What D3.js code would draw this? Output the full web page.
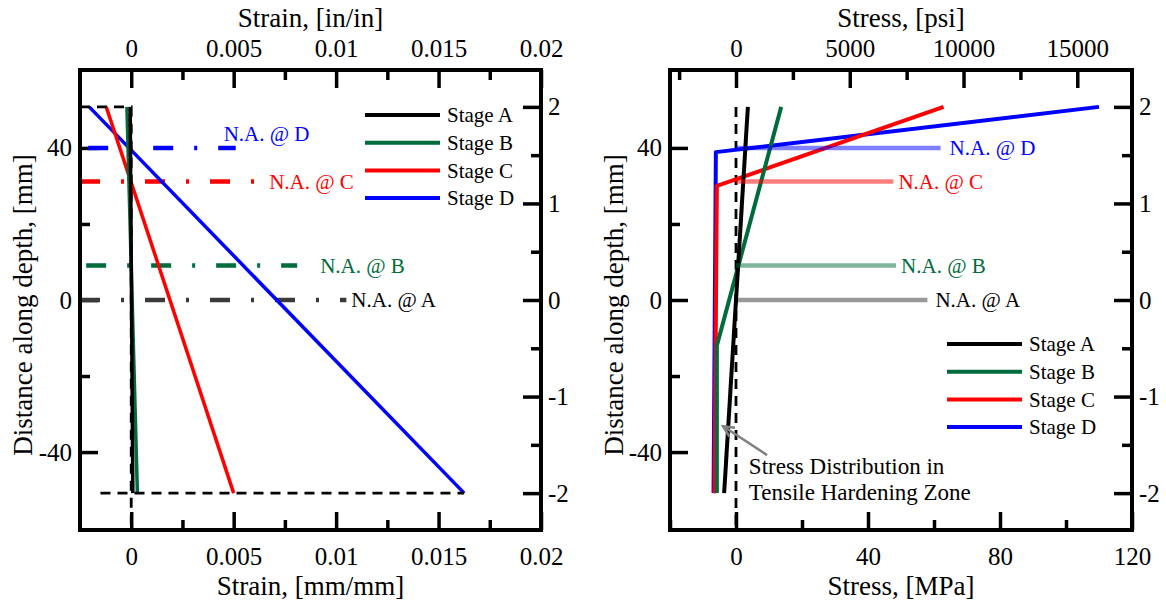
<!DOCTYPE html>
<html><head><meta charset="utf-8">
<script src="https://cdn.jsdelivr.net/npm/d3@7"></script>
<style>
body{margin:0;background:#fff;}
svg text{font-family:"Liberation Serif","Times New Roman",serif;fill:#000;}
</style></head><body>
<svg id="chart" width="1166" height="604"></svg>
<script>
// ---------------- data ----------------
const stages = ["Stage A", "Stage B", "Stage C", "Stage D"];
const stageColors = ["#000000", "#006b3c", "#ff0000", "#0000ff"];
const naLabels = ["N.A. @ A", "N.A. @ B", "N.A. @ C", "N.A. @ D"];

// strain profiles (depth in mm, strain in mm/mm)
const sectionDepth = [50.8, -50.8];
const strainA = [-0.00005, 0.00008];
const strainB = [-0.00021, 0.0003];
const strainC = [-0.00122, 0.005];
const strainD = [-0.00205, 0.01625];

// neutral axis depth (mm) and extents
const naDepth = [0, 9.1, 31.2, 40];
const naStrainStart = [-0.0025, -0.0022, -0.0025, -0.0021];
const naStrainEnd = [0.0105, 0.0081, 0.006, 0.0051];
const naStressEnd = [58, 48.5, 47.7, 62];

// stress profiles (depth in mm, stress in MPa)
const stressDepthA = [50.8, -50.8];
const stressA = [3.6, -3.6];
const stressDepthB = [50.8, -12, -50.8];
const stressB = [13.7, -5.8, -5.8];
const stressDepthC = [50.8, 30, -50.8];
const stressC = [62.9, -5.8, -6.5];
const stressDepthD = [50.8, 38.9, -50.8];
const stressD = [110, -6.1, -6.8];

// ticks
const strainTicks = [0, 0.005, 0.01, 0.015, 0.02];
const strainMinorTicks = [0.0025, 0.0075, 0.0125, 0.0175];
const depthTicks = [-40, 0, 40];
const depthMinorTicks = [-20, 20];
const inchTicks = [-2, -1, 0, 1, 2];
const inchMinorTicks = [-1.5, -0.5, 0.5, 1.5];
const mpaTicks = [0, 40, 80, 120];
const mpaMinorTicks = [-20, 20, 60, 100];
const psiTicks = [0, 5000, 10000, 15000];
const psiMinorTicks = [-2500, 2500, 7500, 12500];

// ---------------- layout ----------------
const svg = d3.select("#chart");
const L = {x0: 80, x1: 541, y0: 70, y1: 530};
const R = {x0: 670, x1: 1132, y0: 70, y1: 530};
const MM_PER_IN = 25.4, MPA_PER_PSI = 0.00689476;
const yDom = [-60.5, 60.5];

const xStrain = d3.scaleLinear([-0.0025, 0.02], [L.x0, L.x1]);
const yL = d3.scaleLinear(yDom, [L.y1, L.y0]);
const yLin = d3.scaleLinear(yDom.map(d => d / MM_PER_IN), [L.y1, L.y0]);
const xMPa = d3.scaleLinear([-20, 120], [R.x0, R.x1]);
const xPsi = d3.scaleLinear([-20 / MPA_PER_PSI, 120 / MPA_PER_PSI], [R.x0, R.x1]);
const yR = d3.scaleLinear(yDom, [R.y1, R.y0]);
const yRin = d3.scaleLinear(yDom.map(d => d / MM_PER_IN), [R.y1, R.y0]);

const TICK_FS = 25, TITLE_FS = 27, LABEL_FS = 21;

function styleAxis(g) {
  g.select(".domain").remove();
  g.selectAll(".tick line").attr("stroke", "#000").attr("stroke-width", 3.5);
  g.selectAll(".tick text").attr("font-size", TICK_FS).attr("font-family", "Liberation Serif").attr("fill", "#000");
}
function addAxis(gen, scale, major, minor, transform, pad) {
  const a = svg.append("g").attr("transform", transform)
    .call(gen(scale).tickValues(major).tickSize(-18).tickSizeOuter(0).tickPadding(pad).tickFormat(d => String(d)));
  styleAxis(a);
  const b = svg.append("g").attr("transform", transform)
    .call(gen(scale).tickValues(minor).tickSize(-10).tickSizeOuter(0).tickFormat(""));
  styleAxis(b);
}
function frame(P) {
  svg.append("rect").attr("x", P.x0).attr("y", P.y0).attr("width", P.x1 - P.x0).attr("height", P.y1 - P.y0)
    .attr("fill", "none").attr("stroke", "#000").attr("stroke-width", 4);
}
function title(txt, x, y, rot) {
  const t = svg.append("text").attr("font-size", TITLE_FS).attr("text-anchor", "middle").text(txt);
  if (rot) t.attr("transform", `translate(${x},${y}) rotate(-90)`);
  else t.attr("x", x).attr("y", y);
}

// ---------------- left panel ----------------
addAxis(d3.axisBottom, xStrain, strainTicks, strainMinorTicks, `translate(0,${L.y1})`, 17);
addAxis(d3.axisTop, xStrain, strainTicks, strainMinorTicks, `translate(0,${L.y0})`, 13);
addAxis(d3.axisLeft, yL, depthTicks, depthMinorTicks, `translate(${L.x0},0)`, 8);
addAxis(d3.axisRight, yLin, inchTicks, inchMinorTicks, `translate(${L.x1},0)`, 7);

const gl = svg.append("g");
// neutral axis dash-dot lines
const naLeftColors = ["#3a3a3a", "#006b3c", "#ff0000", "#0000ff"];
const naLeftDx = [5, 23, 15, -12], naLeftDy = [0, 0, 0, -14];
naDepth.forEach((d, i) => {
  gl.append("line")
    .attr("x1", xStrain(naStrainStart[i])).attr("x2", xStrain(naStrainEnd[i]))
    .attr("y1", yL(d)).attr("y2", yL(d))
    .attr("stroke", naLeftColors[i]).attr("stroke-width", 4.5)
    .attr("stroke-dasharray", "20 21 3 21");
  gl.append("text").attr("x", xStrain(naStrainEnd[i]) + naLeftDx[i]).attr("y", yL(d) + naLeftDy[i])
    .attr("dy", "0.35em").attr("font-size", LABEL_FS)
    .style("fill", i === 0 ? "#000" : stageColors[i]).text(naLabels[i]);
});
// strain profiles
const strainSeries = [strainA, strainB, strainC, strainD];
const lineL = d3.line().x(d => xStrain(d[0])).y(d => yL(d[1]));
[3, 2, 1, 0].forEach(i => {
  gl.append("path").datum(strainSeries[i].map((s, k) => [s, sectionDepth[k]]))
    .attr("d", lineL).attr("fill", "none").attr("stroke", stageColors[i]).attr("stroke-width", 3.5);
});
// section boundary dashed lines
const dashL = d3.line().x(d => xStrain(d[0])).y(d => yL(d[1]));
gl.append("path").datum([[-0.0025, sectionDepth[0]], [0, sectionDepth[0]], [0, yDom[0]]])
  .attr("d", dashL).attr("fill", "none").attr("stroke", "#000").attr("stroke-width", 2.8).attr("stroke-dasharray", "10 7");
gl.append("path").datum([[-0.0015, sectionDepth[1]], [strainD[1], sectionDepth[1]]])
  .attr("d", dashL).attr("fill", "none").attr("stroke", "#000").attr("stroke-width", 2.8).attr("stroke-dasharray", "10 7");
// legend
stages.forEach((s, i) => {
  const y = 115 + i * 27.7;
  gl.append("line").attr("x1", 365).attr("x2", 440).attr("y1", y).attr("y2", y)
    .attr("stroke", stageColors[i]).attr("stroke-width", 4);
  gl.append("text").attr("x", 447).attr("y", y).attr("dy", "0.35em").attr("font-size", LABEL_FS).text(s);
});
frame(L);
title("Strain, [in/in]", (L.x0 + L.x1) / 2, 27);
title("Strain, [mm/mm]", (L.x0 + L.x1) / 2, 595);
title("Distance along depth, [mm]", 32, 305, true);

// ---------------- right panel ----------------
addAxis(d3.axisBottom, xMPa, mpaTicks, mpaMinorTicks, `translate(0,${R.y1})`, 17);
addAxis(d3.axisTop, xPsi, psiTicks, psiMinorTicks, `translate(0,${R.y0})`, 13);
addAxis(d3.axisLeft, yR, depthTicks, depthMinorTicks, `translate(${R.x0},0)`, 8);
addAxis(d3.axisRight, yRin, inchTicks, inchMinorTicks, `translate(${R.x1},0)`, 7);

const gr = svg.append("g");
const stressSeries = [[stressA, stressDepthA], [stressB, stressDepthB], [stressC, stressDepthC], [stressD, stressDepthD]];
const lineR = d3.line().x(d => xMPa(d[0])).y(d => yR(d[1]));
// dashed zero line
gr.append("path").datum([[0, sectionDepth[0]], [0, yDom[0]]])
  .attr("d", lineR).attr("fill", "none").attr("stroke", "#000").attr("stroke-width", 2.8).attr("stroke-dasharray", "10 7");
[3, 2, 1, 0].forEach(i => {
  const [v, dep] = stressSeries[i];
  gr.append("path").datum(v.map((s, k) => [s, dep[k]]))
    .attr("d", lineR).attr("fill", "none").attr("stroke", stageColors[i]).attr("stroke-width", 4)
    .attr("stroke-linejoin", "round");
});
// neutral axis lines
const naRightDx = [8, 5, 5, 9];
naDepth.forEach((d, i) => {
  gr.append("line").attr("x1", xMPa(0)).attr("x2", xMPa(naStressEnd[i]))
    .attr("y1", yR(d)).attr("y2", yR(d))
    .attr("stroke", stageColors[i]).attr("stroke-opacity", i === 0 ? 0.4 : 0.5).attr("stroke-width", 4.5);
  gr.append("text").attr("x", xMPa(naStressEnd[i]) + naRightDx[i]).attr("y", yR(d))
    .attr("dy", "0.35em").attr("font-size", LABEL_FS).style("fill", stageColors[i]).text(naLabels[i]);
});
// legend
stages.forEach((s, i) => {
  const y = 344 + i * 27.7;
  gr.append("line").attr("x1", 947).attr("x2", 1022).attr("y1", y).attr("y2", y)
    .attr("stroke", stageColors[i]).attr("stroke-width", 4);
  gr.append("text").attr("x", 1029).attr("y", y).attr("dy", "0.35em").attr("font-size", LABEL_FS).text(s);
});
// annotation arrow
const tip = [xMPa(-3.9), yR(-33.2)], tail = [xMPa(9.4), yR(-40.8)];
gr.append("line").attr("x1", tail[0]).attr("y1", tail[1]).attr("x2", tip[0]).attr("y2", tip[1])
  .attr("stroke", "#808080").attr("stroke-width", 2.5);
const ang = Math.atan2(tail[1] - tip[1], tail[0] - tip[0]);
const ah = 12, spread = 0.45;
gr.append("path")
  .attr("d", `M${tip[0] + ah * Math.cos(ang + spread)},${tip[1] + ah * Math.sin(ang + spread)}L${tip[0]},${tip[1]}L${tip[0] + ah * Math.cos(ang - spread)},${tip[1] + ah * Math.sin(ang - spread)}`)
  .attr("fill", "none").attr("stroke", "#808080").attr("stroke-width", 2.5);
gr.append("text").attr("x", xMPa(3.9)).attr("y", 474).attr("font-size", 23).text("Stress Distribution in");
gr.append("text").attr("x", xMPa(3.9)).attr("y", 500).attr("font-size", 23).text("Tensile Hardening Zone");

frame(R);
title("Stress, [psi]", (R.x0 + R.x1) / 2, 27);
title("Stress, [MPa]", (R.x0 + R.x1) / 2, 595);
title("Distance along depth, [mm]", 623, 305, true);
</script>
</body></html>
